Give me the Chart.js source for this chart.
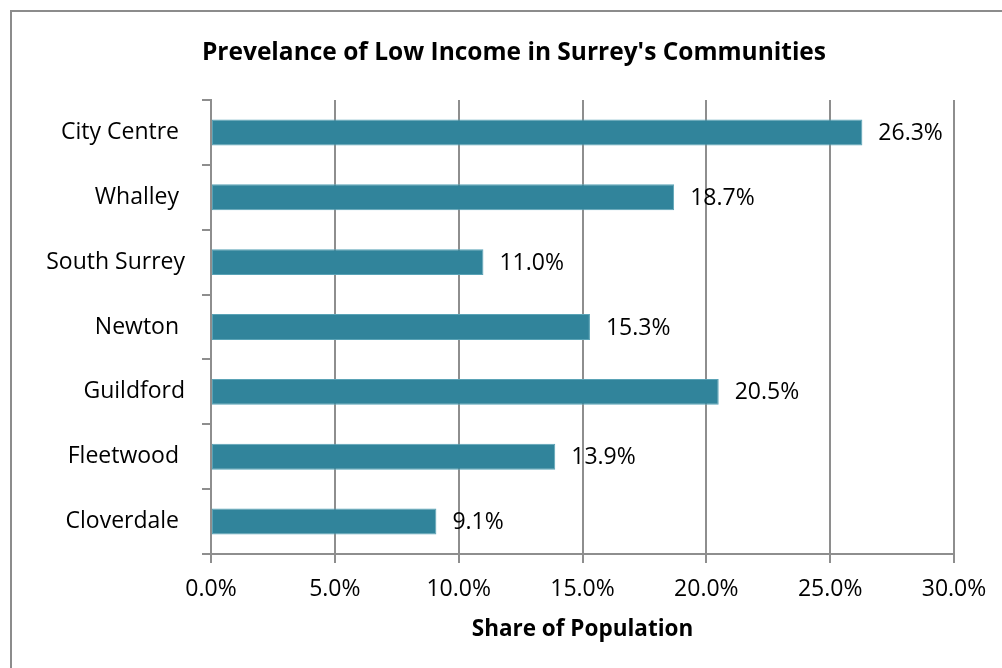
<!DOCTYPE html>
<html>
<head>
<meta charset="utf-8">
<script src="https://cdn.jsdelivr.net/npm/chart.js@4/dist/chart.umd.min.js"></script>
<style>
  html, body { margin: 0; padding: 0; background: #fff; overflow: hidden; }
  #wrap { position: relative; width: 1002px; height: 668px; overflow: hidden; }
  #frame { position: absolute; left: 10px; top: 10px; width: 1100px; height: 800px; border: 2px solid #8c8c8c; }
  #chart { position: absolute; left: 0; top: 0; }
</style>
</head>
<body>
<div id="wrap">
  <div id="frame"></div>
  <canvas id="chart" width="1002" height="668"></canvas>
</div>
<script>
// communities and share of population in low income (%)
const communities = ['City Centre ', 'Whalley ', 'South Surrey', 'Newton ', 'Guildford', 'Fleetwood ', 'Cloverdale '];
const lowIncomeShare = [26.3, 18.7, 11.0, 15.3, 20.5, 13.9, 9.1];
const axisMin = 0;
const axisMax = 30;
const axisStep = 5;

const gridGray = '#8e8e8e';

Chart.defaults.font.family = "'Open Sans', sans-serif";
Chart.defaults.font.size = 23;
Chart.defaults.color = '#000';

// writes the value next to the end of each bar
const barValueLabels = {
  id: 'barValueLabels',
  afterDatasetsDraw(chart) {
    const ctx = chart.ctx;
    const meta = chart.getDatasetMeta(0);
    ctx.save();
    ctx.font = "23px 'Open Sans', sans-serif";
    ctx.fillStyle = '#000';
    ctx.textAlign = 'left';
    ctx.textBaseline = 'middle';
    meta.data.forEach((bar, i) => {
      ctx.fillText(lowIncomeShare[i].toFixed(1) + '%', bar.x + 16, bar.y + 1);
    });
    ctx.restore();
  }
};

// the frame is wider than the page, so the title sits right of the page centre
const shiftTitle = {
  id: 'shiftTitle',
  afterLayout(chart) {
    if (chart.titleBlock) chart.titleBlock.left += 74;
  }
};

const ctx = document.getElementById('chart').getContext('2d');
const incomeChart = new Chart(ctx, {
  type: 'bar',
  data: {
    labels: communities,
    datasets: [{
      label: 'Share of Population',
      data: lowIncomeShare,
      backgroundColor: '#31849b',
      borderColor: '#5aa3b6',
      borderWidth: 1,
      borderSkipped: false,
      barPercentage: 0.5,
      categoryPercentage: 0.8
    }]
  },
  options: {
    indexAxis: 'y',
    responsive: false,
    animation: false,
    layout: { padding: { left: 0, right: 48, top: 0, bottom: 0 } },
    plugins: {
      legend: { display: false },
      tooltip: { enabled: false },
      title: {
        display: true,
        text: "Prevelance of Low Income in Surrey's Communities",
        font: { size: 24.5, weight: 'bold' },
        color: '#000',
        padding: { top: 38, bottom: 32.6 }
      }
    },
    scales: {
      x: {
        min: axisMin,
        max: axisMax,
        ticks: {
          stepSize: axisStep,
          padding: 13,
          callback: (v) => v.toFixed(1) + '%'
        },
        grid: { color: gridGray, lineWidth: 2, tickLength: 9 },
        border: { color: gridGray, width: 2 },
        title: {
          display: true,
          text: 'Share of Population',
          font: { size: 22.5, weight: 'bold' },
          padding: { top: 0, bottom: 25 }
        },
        afterFit: (scale) => { scale.height = 114; }
      },
      y: {
        ticks: { padding: 17 },
        grid: { drawOnChartArea: false, color: gridGray, lineWidth: 2, tickLength: 9 },
        border: { color: gridGray, width: 2 },
        afterFit: (scale) => { scale.width = 211; }
      }
    }
  },
  plugins: [barValueLabels, shiftTitle]
});
</script>
</body>
</html>
